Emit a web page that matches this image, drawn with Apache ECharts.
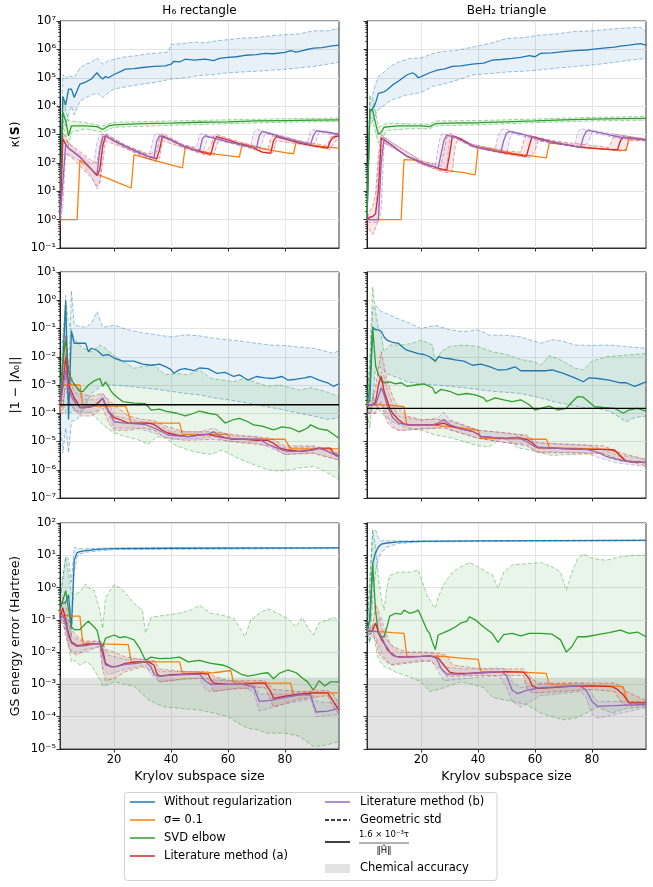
<!DOCTYPE html>
<html>
<head>
<meta charset="utf-8">
<script src="https://cdn.jsdelivr.net/npm/echarts@6/dist/echarts.min.js"></script>
<style>
html, body { margin: 0; padding: 0; background: #fff; }
#main { width: 653px; height: 887px; }
</style>
</head>
<body>
<div id="main"></div>
<script>
// ---------- data: [krylov size, value] ----------
// kappa(S), H6 rectangle
const kH6Blue = [[1,1],[2,2.2e4],[3,1.1e4],[4,4e4],[5,4e4],[6,2e4],[7,3.5e4],[8,6e4],[10,7e4],[12,9e4],[14,1.5e5],[15,1.1e5],[16,9e4],[17,1.1e5],[18,1e5],[20,1.3e5],[22,1.6e5],[24,2e5],[27,2.1e5],[30,2.3e5],[34,2.5e5],[38,2.6e5],[40,3e5],[41,3.8e5],[43,3.6e5],[45,4.5e5],[48,4.2e5],[52,4.5e5],[55,4e5],[57,4.8e5],[60,5.2e5],[63,5.5e5],[66,6.2e5],[70,6.5e5],[73,7.2e5],[76,7e5],[80,7.8e5],[82,9e5],[84,8e5],[87,9.5e5],[90,1.1e6],[93,1.15e6],[96,1.3e6],[99,1.4e6]];
const kH6BlueHi = [[1,1],[2,1.3e5],[3,9e4],[4,1.2e5],[6,1e5],[8,2.2e5],[10,3e5],[12,3.5e5],[14,5e5],[16,3e5],[18,4e5],[20,4.5e5],[24,5.5e5],[28,6e5],[32,7e5],[36,7.5e5],[39,8e5],[40,1.5e6],[44,1.6e6],[48,1.8e6],[52,1.7e6],[56,2e6],[60,2.2e6],[65,2.5e6],[70,2.6e6],[75,3e6],[80,3.3e6],[85,3.5e6],[90,4.5e6],[95,4.5e6],[99,5.5e6]];
const kH6BlueLo = [[1,1],[2,3e3],[3,2e3],[4,5e3],[5,1e4],[6,5e3],[8,1.5e4],[10,2e4],[14,3e4],[16,2e4],[18,3e4],[20,4e4],[25,5e4],[30,6e4],[35,7e4],[40,9e4],[45,1e5],[50,1.2e5],[55,1.3e5],[60,1.5e5],[70,1.7e5],[80,2e5],[90,2.5e5],[99,3.5e5]];
const kH6Green = [[1,1],[2,6e3],[3,3e3],[4,9e2],[5,2e3],[7,2e3],[10,2e3],[14,1.9e3],[16,1.5e3],[18,2e3],[20,2.2e3],[30,2.4e3],[40,2.5e3],[50,2.7e3],[60,2.8e3],[70,3e3],[80,3.1e3],[90,3.2e3],[99,3.3e3]];
const kH6GreenHi = [[1,1],[2,2e4],[3,8e3],[4,3e3],[5,3e3],[10,2.6e3],[16,2e3],[20,2.7e3],[40,3e3],[60,3.3e3],[80,3.6e3],[99,3.8e3]];
const kH6GreenLo = [[1,1],[2,2e3],[3,1e3],[4,4e2],[5,1.2e3],[10,1.6e3],[16,1.2e3],[20,1.8e3],[40,2.1e3],[60,2.4e3],[80,2.7e3],[99,2.9e3]];
const kH6Red = [[1,1],[2,7e2],[3,4.5e2],[4,3.3e2],[6,2.3e2],[8,1.6e2],[10,1e2],[12,60],[13,45],[14,36],[15,60],[16,4e2],[17,9e2],[20,6e2],[24,3.8e2],[28,2.5e2],[32,1.7e2],[35,1.4e2],[36,3e2],[37,9e2],[40,6.5e2],[44,4e2],[48,2.9e2],[52,2.2e2],[54,2e2],[55,5e2],[56,8.5e2],[60,6.5e2],[64,4.8e2],[68,3.7e2],[72,2.4e2],[75,2.2e2],[76,6e2],[77,8.5e2],[80,7e2],[85,5e2],[90,4e2],[95,3.3e2],[96,6e2],[97,8e2],[99,9e2]];
const kH6RedHi = [[1,1.5],[2,1.2e3],[4,5e2],[8,2.5e2],[12,1.2e2],[14,1e2],[15,4e2],[16,1e3],[17,1.1e3],[24,4.2e2],[32,2e2],[35,2.5e2],[36,8e2],[37,1.1e3],[44,4.5e2],[52,2.5e2],[54,4e2],[55,9e2],[56,1e3],[64,5.5e2],[74,3e2],[75,7e2],[76,1e3],[85,6e2],[95,4e2],[96,8e2],[99,1.1e3]];
const kH6RedLo = [[1,0.3],[2,2e2],[4,2e2],[8,80],[12,30],[14,15],[15,20],[16,1e2],[17,6e2],[24,3.2e2],[32,1.4e2],[35,1.1e2],[36,1.5e2],[37,6e2],[44,3.5e2],[52,1.9e2],[55,1.8e2],[56,4e2],[57,7e2],[64,4.2e2],[75,2e2],[76,2.5e2],[77,6e2],[85,4.6e2],[96,3e2],[97,5e2],[99,7e2]];
const kH6Purple = [[1,1],[2,20],[3,4.5e2],[4,3.3e2],[6,2.3e2],[8,1.6e2],[10,1e2],[12,60],[13,45],[14,40],[15,3e2],[16,8e2],[17,9e2],[20,6e2],[24,3.8e2],[28,2.5e2],[32,1.7e2],[34,1.5e2],[35,6e2],[36,9e2],[40,6.5e2],[44,4e2],[48,2.9e2],[50,2.6e2],[51,7e2],[52,9e2],[56,7e2],[60,5.5e2],[64,4.5e2],[68,3.6e2],[70,3.3e2],[71,9e2],[72,1.3e3],[76,1e3],[80,7.5e2],[85,5.5e2],[89,4.5e2],[90,9e2],[91,1.35e3],[95,1.2e3],[99,1e3]];
const kH6PurpleHi = [[1,1.5],[2,9e2],[3,6e2],[8,2e2],[12,90],[13,1.2e2],[14,5e2],[15,1e3],[17,1e3],[24,4.2e2],[32,2e2],[33,3e2],[34,9e2],[35,1.1e3],[44,4.5e2],[49,3.5e2],[50,1e3],[51,1.1e3],[60,6e2],[68,4e2],[69,1.2e3],[70,1.5e3],[80,8.5e2],[88,5e2],[89,1.3e3],[90,1.5e3],[99,1.1e3]];
const kH6PurpleLo = [[1,0.6],[2,3],[3,2e2],[8,1.2e2],[12,35],[14,12],[15,20],[16,3e2],[17,8e2],[24,3.3e2],[32,1.4e2],[35,1.3e2],[36,3e2],[37,8e2],[44,3.6e2],[51,2.2e2],[52,4e2],[53,8e2],[60,5e2],[71,3e2],[72,5e2],[73,1.1e3],[80,6.5e2],[90,4e2],[91,6e2],[92,1.2e3],[99,9e2]];
const kH6Orange = [[1,1],[7,1],[8,1.2e2],[10,90],[12,58],[14,40],[18,28],[22,19],[26,13],[27,1.9e2],[30,1.6e2],[35,1.15e2],[40,85],[44,66],[45,3.8e2],[48,3e2],[52,2.4e2],[56,2e2],[60,1.8e2],[64,1.6e2],[65,4.8e2],[68,4e2],[72,3.2e2],[76,2.7e2],[80,2.3e2],[83,2.1e2],[84,5.5e2],[88,4.5e2],[92,3.9e2],[96,3.5e2],[99,3.3e2]];

// kappa(S), BeH2 triangle
const kBeBlue = [[1,1],[2,7e3],[3,8e3],[4,1.3e4],[5,2.8e4],[6,3e4],[7,3.2e4],[8,3.7e4],[10,5.6e4],[12,7.5e4],[15,1.25e5],[17,1.5e5],[18,1.3e5],[19,1e5],[20,1.1e5],[23,1.5e5],[26,1.9e5],[28,2e5],[31,2.5e5],[34,2.6e5],[38,3e5],[42,3.3e5],[45,4.2e5],[48,4.4e5],[52,4.8e5],[55,5.2e5],[58,6e5],[60,5.5e5],[62,7.2e5],[66,7.5e5],[70,8.3e5],[74,9e5],[78,9.5e5],[80,1e6],[84,1.1e6],[88,1.2e6],[90,1.3e6],[93,1.4e6],[97,1.6e6],[99,1.4e6]];
const kBeBlueHi = [[1,1],[2,2e4],[3,2.5e4],[4,6e4],[5,1.1e5],[7,1.6e5],[9,2.5e5],[12,3.5e5],[16,4.8e5],[20,5e5],[24,7e5],[27,8.3e5],[32,9e5],[38,1.2e6],[44,1.6e6],[50,2.4e6],[56,2.6e6],[62,3.2e6],[68,3.5e6],[73,4.2e6],[80,4.5e6],[85,5e6],[90,5.5e6],[97,6e6],[99,4.2e6]];
const kBeBlueLo = [[1,1],[2,4.3e3],[3,3e3],[4,5e3],[5,7.4e3],[8,1.3e4],[10,1.7e4],[15,2.5e4],[20,3e4],[24,4.9e4],[28,6e4],[33,8.4e4],[38,1.25e5],[44,1.4e5],[50,1.6e5],[56,1.7e5],[62,1.9e5],[68,2.2e5],[74,2.5e5],[80,2.8e5],[85,3.2e5],[92,4e5],[99,4.8e5]];
const kBeGreen = [[1,1],[2,7e3],[3,7e3],[4,2.5e3],[5,1e3],[6,1.2e3],[7,1.8e3],[9,1.9e3],[12,2e3],[16,2e3],[20,2e3],[23,1.9e3],[25,2.4e3],[30,2.5e3],[40,2.6e3],[50,2.8e3],[60,3e3],[70,3.3e3],[80,3.5e3],[90,3.6e3],[99,3.7e3]];
const kBeGreenHi = [[1,1],[2,2.2e4],[3,2e4],[4,6e3],[5,1.8e3],[6,2e3],[8,2.5e3],[16,2.4e3],[23,2.3e3],[25,3e3],[40,3.1e3],[60,3.5e3],[80,4e3],[99,4.3e3]];
const kBeGreenLo = [[1,1],[2,2e3],[3,3e3],[4,1.2e3],[5,5e2],[6,6e2],[8,1.4e3],[16,1.6e3],[23,1.6e3],[25,2e3],[40,2.2e3],[60,2.6e3],[80,3e3],[99,3.2e3]];
const kBeRed = [[1,1],[2,1.2],[3,1.3],[4,1.6],[5,10],[6,7.5e2],[8,5.5e2],[10,4e2],[12,2.8e2],[15,1.7e2],[18,1.3e2],[21,95],[24,76],[27,60],[29,55],[30,2e2],[31,9e2],[34,7e2],[38,4e2],[42,3.2e2],[46,2.6e2],[50,2.2e2],[54,1.9e2],[57,1.7e2],[58,4e2],[59,8.5e2],[62,7e2],[66,5.5e2],[70,4.5e2],[74,3.8e2],[78,3.4e2],[82,3.2e2],[86,3e2],[89,2.9e2],[90,6e2],[91,8e2],[94,7.5e2],[99,6.5e2]];
const kBeRedHi = [[1,1.2],[2,2],[3,3],[4,8],[5,2e2],[6,1e3],[10,5e2],[20,1.2e2],[27,80],[28,2.5e2],[29,8e2],[30,1.1e3],[38,4.5e2],[50,2.6e2],[55,2.4e2],[56,6e2],[57,1e3],[66,6e2],[86,3.5e2],[87,6e2],[88,1e3],[99,7e2]];
const kBeRedLo = [[1,0.8],[2,0.4],[3,0.3],[4,0.5],[5,1],[6,3e2],[7,5e2],[10,3.5e2],[20,90],[29,45],[31,50],[32,4e2],[33,7e2],[38,3.6e2],[50,2e2],[58,1.5e2],[60,2.5e2],[61,6e2],[66,5e2],[90,2.6e2],[92,3e2],[93,6e2],[99,6e2]];
const kBePurple = [[1,1],[5,1],[6,1e2],[7,7e2],[8,5.5e2],[10,4e2],[12,2.8e2],[15,1.7e2],[18,1.3e2],[21,95],[24,76],[26,66],[27,2e2],[28,6e2],[29,9.5e2],[32,8e2],[38,4e2],[42,3.2e2],[46,2.6e2],[48,2.4e2],[49,6e2],[50,1.1e3],[51,1.3e3],[56,1e3],[62,6.5e2],[66,5.5e2],[70,4.5e2],[74,3.8e2],[76,3.6e2],[77,8e2],[78,1.3e3],[79,1.4e3],[84,1.1e3],[90,8e2],[94,7.5e2],[99,6.5e2]];
const kBePurpleHi = [[1,1.2],[4,1.5],[5,80],[6,9e2],[10,5e2],[20,1.2e2],[25,80],[26,4e2],[27,1e3],[28,1.1e3],[38,4.5e2],[46,3e2],[47,9e2],[48,1.4e3],[49,1.6e3],[60,8e2],[74,4.2e2],[75,1.2e3],[76,1.6e3],[84,1.2e3],[99,7e2]];
const kBePurpleLo = [[1,0.8],[5,0.8],[6,2],[7,5e2],[10,3.5e2],[20,90],[27,50],[29,70],[30,6e2],[31,8e2],[38,3.6e2],[50,2.1e2],[51,6e2],[52,1.1e3],[62,5.8e2],[77,3.3e2],[79,6e2],[80,1.2e3],[90,7e2],[99,6e2]];
const kBeOrange = [[1,1],[13,1],[14,1.3e2],[18,1.25e2],[21,95],[24,76],[27,60],[30,52],[35,45],[39,38],[40,3.5e2],[44,3.2e2],[48,2.6e2],[52,2.2e2],[56,1.9e2],[60,1.7e2],[64,1.5e2],[65,5e2],[70,4.5e2],[76,3.6e2],[82,3.2e2],[88,2.9e2],[92,2.7e2],[93,7e2],[96,7e2],[99,6.5e2]];

// |1 - |Lambda_0||, H6 rectangle
const oH6Blue = [[1,1.2e-4],[2,5e-3],[3,9e-1],[4,6e-5],[5,8e-2],[6,3e-2],[8,3e-2],[10,3e-2],[11,1.5e-2],[12,2e-2],[14,1.7e-2],[16,1.1e-2],[18,1.2e-2],[20,9e-3],[23,7e-3],[27,7e-3],[30,5.5e-3],[33,5e-3],[36,5.5e-3],[38,4.5e-3],[40,3.5e-3],[41,2.6e-3],[43,3.5e-3],[45,3.8e-3],[48,3.2e-3],[50,4e-3],[53,3.8e-3],[56,2.6e-3],[59,2.8e-3],[62,2e-3],[64,2.3e-3],[67,1.5e-3],[70,2e-3],[73,1.8e-3],[76,1.7e-3],[79,2e-3],[81,1.5e-3],[84,1.6e-3],[87,1.8e-3],[89,2e-3],[92,1.5e-3],[95,1.2e-3],[97,9e-4],[99,1.1e-3]];
const oH6BlueHi = [[1,2e-4],[2,2e-2],[3,1.5],[4,1e-3],[5,2.2],[6,1.3e-1],[8,1.2e-1],[10,1.1e-1],[12,1.5e-1],[14,3.9e-1],[16,1.1e-1],[20,1.3e-1],[25,9e-2],[30,7e-2],[35,6e-2],[40,5e-2],[45,6e-2],[50,5.5e-2],[55,4.5e-2],[60,4e-2],[65,3.5e-2],[70,3e-2],[75,2.6e-2],[80,2.5e-2],[85,2.2e-2],[90,2e-2],[95,1.5e-2],[97,1.3e-2],[99,1.7e-2]];
const oH6BlueLo = [[1,6e-5],[2,4e-6],[3,3e-5],[4,4e-6],[5,5e-5],[7,6e-5],[9,1.2e-4],[12,5e-4],[16,1e-3],[20,1e-3],[25,9e-4],[30,8e-4],[35,7e-4],[40,6e-4],[45,5e-4],[50,4.5e-4],[55,3.5e-4],[60,3e-4],[65,2.5e-4],[70,2e-4],[75,1.6e-4],[80,1.3e-4],[85,1e-4],[90,8e-5],[95,6e-5],[99,7e-5]];
const oH6Green = [[1,5e-4],[2,6.7e-3],[3,3.9e-2],[4,3e-3],[5,1.5e-3],[6,1.1e-3],[8,6e-4],[9,5.8e-4],[11,1e-3],[13,1.4e-3],[15,1.7e-3],[16,9e-4],[17,1.3e-3],[19,6e-4],[20,4.5e-4],[23,2.6e-4],[27,2.3e-4],[31,2.2e-4],[33,1.3e-4],[36,1.4e-4],[38,1.2e-4],[42,1e-4],[45,8e-5],[48,1e-4],[50,1.2e-4],[53,1e-4],[56,9e-5],[59,4.5e-5],[62,6e-5],[64,6.6e-5],[67,5e-5],[69,3.9e-5],[72,3.5e-5],[76,2.6e-5],[79,3.3e-5],[82,3e-5],[85,2.2e-5],[88,3e-5],[89,3.9e-5],[92,2.8e-5],[95,2.5e-5],[99,1.3e-5]];
const oH6GreenHi = [[1,1e-3],[2,5e-2],[3,1],[4,1.7e-1],[6,4.4e-2],[9,2e-2],[12,1.5e-2],[15,2.6e-2],[17,2e-2],[20,1.1e-2],[24,6e-3],[27,3.9e-3],[30,4.5e-3],[34,5e-3],[38,2.3e-3],[42,2.5e-3],[46,2.3e-3],[50,3.4e-3],[54,1.7e-3],[58,1.5e-3],[62,1.3e-3],[66,1.7e-3],[70,1.2e-3],[74,9e-4],[78,1e-3],[82,8e-4],[85,6.6e-4],[89,8e-4],[94,6e-4],[99,3.9e-4]];
const oH6GreenLo = [[1,1e-4],[2,3e-4],[3,1e-4],[4,1e-4],[6,1.2e-4],[9,1.2e-4],[12,1e-4],[16,4e-5],[20,2e-5],[24,1.5e-5],[28,1.2e-5],[32,8e-6],[35,1.5e-5],[38,1.3e-5],[42,7e-6],[46,5e-6],[50,4e-6],[54,3.5e-6],[58,5e-6],[62,3e-6],[66,2e-6],[70,1.4e-6],[74,1e-6],[78,9e-7],[82,1e-6],[86,1.2e-6],[90,1.3e-6],[94,9e-7],[99,4.5e-7]];
const oH6Red = [[1,2e-4],[2,1e-3],[3,1e-2],[4,1e-3],[5,6e-4],[6,3.4e-4],[7,2.5e-4],[8,1.6e-4],[10,1.6e-4],[12,1.7e-4],[14,2.2e-4],[16,3.4e-4],[17,2e-4],[18,1.2e-4],[20,7e-5],[22,6e-5],[25,4.5e-5],[29,4.5e-5],[32,4.5e-5],[34,4e-5],[37,2.5e-5],[39,2e-5],[42,1.7e-5],[46,1.5e-5],[50,1.7e-5],[53,1.8e-5],[55,1.6e-5],[58,1.4e-5],[62,1.2e-5],[66,1.2e-5],[70,1.1e-5],[74,1.1e-5],[76,8.7e-6],[78,6e-6],[81,5e-6],[85,4.5e-6],[89,5e-6],[92,5.8e-6],[96,5.8e-6],[97,4e-6],[99,3e-6]];
const oH6RedHi = [[1,3e-4],[2,5e-3],[3,6e-2],[4,4e-3],[6,1e-3],[8,5e-4],[12,4e-4],[16,5e-4],[18,3e-4],[20,2e-4],[25,8e-5],[30,6e-5],[34,5.5e-5],[38,3.5e-5],[45,2.2e-5],[55,2.2e-5],[65,1.6e-5],[75,1.3e-5],[80,7e-6],[90,7e-6],[99,4e-6]];
const oH6RedLo = [[1,1e-4],[2,1e-4],[3,2e-3],[4,2e-4],[6,1.5e-4],[8,8e-5],[12,8e-5],[16,1.5e-4],[18,5e-5],[20,2.5e-5],[25,2.5e-5],[30,3e-5],[34,2.5e-5],[38,1.4e-5],[45,1.1e-5],[55,1.2e-5],[65,9e-6],[75,7e-6],[80,3.5e-6],[90,3.8e-6],[99,2.2e-6]];
const oH6Purple = [[1,2e-4],[2,8e-4],[3,3.4e-3],[4,8e-4],[5,4e-4],[6,2.6e-4],[8,1.6e-4],[10,1.6e-4],[12,1.7e-4],[14,2e-4],[16,3.4e-4],[17,1.8e-4],[19,8e-5],[20,5e-5],[24,4.5e-5],[28,4.2e-5],[31,4e-5],[34,3e-5],[37,2.2e-5],[39,1.7e-5],[42,1.6e-5],[46,1.5e-5],[50,1.7e-5],[53,1.8e-5],[55,2.2e-5],[57,1.6e-5],[60,1.3e-5],[64,1.2e-5],[68,1.2e-5],[71,1.2e-5],[74,8e-6],[76,6.6e-6],[79,5e-6],[81,4.5e-6],[86,4.5e-6],[90,5e-6],[92,5.8e-6],[95,4.5e-6],[99,2.8e-6]];
const oH6PurpleHi = [[1,3e-4],[2,2e-3],[3,1.5e-2],[4,2e-3],[6,6e-4],[10,3e-4],[14,3e-4],[16,5e-4],[18,2.5e-4],[20,8e-5],[28,5.5e-5],[34,4.5e-5],[40,2.2e-5],[50,2.2e-5],[55,3e-5],[60,1.6e-5],[70,1.5e-5],[75,1e-5],[80,6e-6],[90,6.5e-6],[99,3.5e-6]];
const oH6PurpleLo = [[1,1e-4],[2,2e-4],[3,8e-4],[4,3e-4],[6,1.2e-4],[10,1e-4],[14,1.2e-4],[16,2e-4],[18,1e-4],[20,3e-5],[28,3e-5],[34,2e-5],[40,1.2e-5],[50,1.3e-5],[55,1.5e-5],[60,1e-5],[70,9e-6],[75,6e-6],[80,3.5e-6],[90,4e-6],[99,2.2e-6]];
const oH6Orange = [[1,1e-4],[2,1e-3],[3,1e-3],[8,1e-3],[9,1.8e-4],[24,1.8e-4],[25,1e-4],[26,4.5e-5],[43,4.5e-5],[44,1.8e-5],[60,1.8e-5],[61,1.2e-5],[80,1.2e-5],[82,5.5e-6],[99,5.5e-6]];

// |1 - |Lambda_0||, BeH2 triangle
const oBeBlue = [[1,2e-4],[2,3e-4],[3,1.1e-1],[4,9e-2],[5,9e-2],[6,8e-2],[7,5e-2],[8,3.9e-2],[10,3.2e-2],[12,3e-2],[14,2e-2],[15,1.7e-2],[17,1.5e-2],[19,1.3e-2],[21,1.2e-2],[23,1e-2],[25,7e-3],[26,1e-2],[28,9e-3],[30,8.5e-3],[32,7.7e-3],[35,7e-3],[38,5e-3],[41,5.5e-3],[44,4.5e-3],[47,3.4e-3],[50,3.5e-3],[53,4.4e-3],[55,3.2e-3],[60,3.2e-3],[64,3.2e-3],[66,3.4e-3],[70,2.6e-3],[74,1.8e-3],[77,1.3e-3],[79,1.8e-3],[82,1.7e-3],[86,1.5e-3],[90,1.2e-3],[92,1.2e-3],[95,9e-4],[99,1.3e-3]];
const oBeBlueHi = [[1,3e-4],[2,5e-3],[3,5e-1],[4,6.7e-1],[6,4e-1],[9,3e-1],[12,2.2e-1],[15,1.7e-1],[20,1e-1],[25,1.3e-1],[30,9e-2],[35,7.7e-2],[40,9e-2],[44,5.8e-2],[50,5.8e-2],[55,5e-2],[60,3.5e-2],[62,3e-2],[66,4e-2],[70,3.5e-2],[74,2.6e-2],[80,2.5e-2],[86,2.6e-2],[92,2.3e-2],[99,2e-2]];
const oBeBlueLo = [[1,1e-4],[2,1e-4],[3,2e-4],[4,5e-3],[6,4e-3],[8,2.5e-3],[12,1.8e-3],[15,1.3e-3],[20,1.1e-3],[25,1e-3],[30,9e-4],[35,8e-4],[40,7e-4],[45,6e-4],[50,5.5e-4],[55,5e-4],[62,3.5e-4],[67,2.5e-4],[72,2e-4],[77,1.6e-4],[82,1.5e-4],[86,1.2e-4],[89,8e-5],[92,5e-5],[95,7e-5],[99,8e-5]];
const oBeGreen = [[1,1.5e-4],[2,1e-3],[3,1.1e-1],[4,5e-3],[5,2.3e-3],[6,1.5e-3],[7,1.2e-3],[9,1.3e-3],[11,1.1e-3],[13,1.2e-3],[15,9e-4],[18,1e-3],[21,1.1e-3],[24,8e-4],[25,5e-4],[27,7e-4],[30,6e-4],[33,4.5e-4],[36,5e-4],[39,4.5e-4],[42,3.5e-4],[43,2.6e-4],[46,3.5e-4],[49,3e-4],[52,2.6e-4],[55,3e-4],[58,2e-4],[60,1.3e-4],[62,1.5e-4],[65,1.8e-4],[68,1.3e-4],[71,1.5e-4],[73,2.5e-4],[75,3.9e-4],[77,3.7e-4],[79,2.5e-4],[81,1.7e-4],[84,1.6e-4],[88,1.5e-4],[91,1e-4],[93,1.3e-4],[96,1.5e-4],[99,1.2e-4]];
const oBeGreenHi = [[1,2e-4],[2,1e-2],[3,3],[4,4e-1],[5,1e-1],[6,5.8e-2],[7,1.5e-2],[9,2.6e-2],[13,2.6e-2],[17,3e-2],[20,3.9e-2],[24,2.6e-2],[25,6e-3],[27,1.5e-2],[30,2.3e-2],[35,2.6e-2],[40,2.3e-2],[45,1.5e-2],[50,1.2e-2],[55,8e-3],[60,6.6e-3],[62,5e-3],[65,1.1e-2],[70,7e-3],[74,4e-3],[77,3.4e-3],[80,7e-3],[85,1e-2],[90,1.1e-2],[95,1.2e-2],[99,1.3e-2]];
const oBeGreenLo = [[1,1e-4],[2,3e-5],[3,5e-4],[4,2e-4],[6,1e-4],[10,5e-5],[15,3e-5],[20,2.5e-5],[25,1.7e-5],[30,1.4e-5],[35,1e-5],[40,7e-6],[44,6.5e-6],[48,1.3e-5],[50,1.2e-5],[54,6e-6],[58,5e-6],[62,4e-6],[66,3.2e-6],[70,3.4e-6],[74,3.5e-6],[78,3.6e-6],[82,4e-6],[86,2.6e-6],[90,2e-6],[95,2e-6],[99,2e-6]];
const oBeRed = [[1,1.7e-4],[2,2e-4],[3,2e-4],[4,2.5e-4],[5,1e-3],[6,2e-3],[7,6e-4],[8,3e-4],[9,1.5e-4],[10,1e-4],[12,6e-5],[14,4.2e-5],[16,3.9e-5],[20,3.9e-5],[24,3.9e-5],[26,4e-5],[28,4.5e-5],[30,3.6e-5],[34,2.8e-5],[38,2.3e-5],[40,1.8e-5],[41,1.5e-5],[45,1.4e-5],[50,1.3e-5],[54,1.4e-5],[57,1.2e-5],[59,9e-6],[61,6e-6],[66,5.8e-6],[72,5.5e-6],[78,5.3e-6],[84,5.3e-6],[88,5e-6],[90,3e-6],[92,2e-6],[99,1.8e-6]];
const oBeRedHi = [[1,2.5e-4],[3,3e-4],[4,8e-4],[5,4e-3],[6,1.5e-2],[7,5e-3],[8,1.5e-3],[10,4e-4],[12,1.5e-4],[15,8e-5],[20,6e-5],[28,6e-5],[34,4e-5],[40,2.5e-5],[50,2e-5],[57,1.7e-5],[61,9e-6],[70,8e-6],[84,7e-6],[90,4e-6],[99,2.3e-6]];
const oBeRedLo = [[1,1e-4],[3,1e-4],[4,1e-4],[5,2e-4],[6,2.5e-4],[7,1e-4],[8,5e-5],[10,3e-5],[12,2.5e-5],[15,2.5e-5],[20,2.8e-5],[28,3e-5],[34,2e-5],[40,1.3e-5],[50,9e-6],[57,8e-6],[61,4e-6],[70,4e-6],[84,3.8e-6],[90,2.2e-6],[99,1.4e-6]];
const oBePurple = [[1,2e-4],[3,2e-4],[4,2e-4],[5,4e-4],[6,8e-4],[7,4.5e-4],[8,2e-4],[10,7e-5],[12,4.6e-5],[15,3.9e-5],[20,3.9e-5],[24,3.9e-5],[26,4.5e-5],[28,5.8e-5],[30,4e-5],[34,2.8e-5],[38,2.3e-5],[40,1.8e-5],[41,1.5e-5],[45,1.4e-5],[50,1.3e-5],[54,1.4e-5],[57,1e-5],[60,6.5e-6],[66,5.8e-6],[72,5.5e-6],[78,5.3e-6],[80,4.8e-6],[83,3.8e-6],[85,3e-6],[88,2.5e-6],[92,2e-6],[99,1.8e-6]];
const oBePurpleHi = [[1,2.5e-4],[4,3e-4],[5,1e-3],[6,3e-3],[7,2e-3],[8,8e-4],[10,2e-4],[12,8e-5],[20,5.5e-5],[26,7e-5],[28,1.1e-4],[30,6e-5],[40,2.5e-5],[50,2e-5],[57,1.5e-5],[60,9e-6],[78,7.5e-6],[82,6e-6],[88,3.5e-6],[99,2.4e-6]];
const oBePurpleLo = [[1,1e-4],[4,1e-4],[5,1.5e-4],[6,2.5e-4],[7,1.5e-4],[8,8e-5],[10,3.5e-5],[12,2.5e-5],[20,2.8e-5],[26,3e-5],[28,3.5e-5],[30,2.6e-5],[40,1.3e-5],[50,9e-6],[57,7e-6],[60,4.5e-6],[78,3.8e-6],[82,2.8e-6],[88,1.8e-6],[99,1.3e-6]];
const oBeOrange = [[1,1.8e-4],[2,2e-4],[5,2e-4],[10,1.9e-4],[14,1.7e-4],[15,3.9e-5],[24,3.9e-5],[27,3.6e-5],[35,3e-5],[40,2.5e-5],[41,1.3e-5],[60,1.2e-5],[64,1.2e-5],[65,6e-6],[86,5.3e-6],[89,4e-6],[92,2e-6],[99,1.8e-6]];

// GS energy error (Hartree), H6 rectangle
const eH6Blue = [[1,3e-1],[2,3.3e-1],[3,3.5e-1],[4,6e-1],[5,5.5e-2],[6,7],[7,12],[8,13],[10,14],[15,15.5],[20,16],[40,16.5],[99,17]];
const eH6BlueHi = [[1,5e-1],[2,2],[3,9],[4,8],[5,1.5],[6,18],[7,16],[10,16],[20,17],[99,17.5]];
const eH6BlueLo = [[1,2e-1],[2,1.5e-1],[3,5e-2],[4,1e-1],[5,3e-2],[6,3],[7,9],[8,11],[10,12.5],[20,15],[99,16]];
const eH6Green = [[1,2e-1],[2,4e-1],[3,8e-1],[4,2e-1],[5,6e-2],[6,5e-2],[8,5e-2],[10,7.7e-2],[11,9e-2],[13,6e-2],[14,4.8e-2],[15,2e-2],[16,1.5e-2],[17,2.7e-2],[20,3.4e-2],[22,2.8e-2],[24,3e-2],[27,2.4e-2],[29,1.3e-2],[31,5.6e-3],[33,7e-3],[36,6.3e-3],[40,6.5e-3],[43,7e-3],[46,5e-3],[50,5.6e-3],[54,4.5e-3],[58,4e-3],[60,3.5e-3],[62,2.8e-3],[65,2e-3],[67,1.8e-3],[70,2e-3],[72,2.2e-3],[74,2.3e-3],[76,1.5e-3],[78,2.2e-3],[81,2.8e-3],[84,2.3e-3],[86,1.6e-3],[88,1.2e-3],[90,6.6e-4],[92,1.3e-3],[94,9e-4],[96,1.2e-3],[99,1.2e-3]];
const eH6GreenHi = [[1,3e-1],[2,2],[3,9],[4,2.7],[5,6.6e-1],[6,6e-1],[8,7.4e-1],[10,1.3],[11,1],[13,8.3e-1],[14,4e-1],[15,2e-1],[16,5.4e-2],[17,5e-1],[20,1.2],[22,1],[24,7e-1],[27,3.2e-1],[30,2e-1],[31,3.9e-2],[33,1.2e-1],[38,1.4e-1],[43,1.6e-1],[47,2e-1],[50,2.8e-1],[54,1.6e-1],[58,1.4e-1],[62,1.1e-1],[64,6e-2],[66,3e-2],[68,1e-1],[71,1.6e-1],[74,2.2e-1],[78,1.5e-1],[81,1.1e-1],[84,6e-2],[86,1.2e-1],[88,6e-2],[90,3.4e-2],[92,8e-2],[95,1e-1],[97,1.2e-1],[99,9e-2]];
const eH6GreenLo = [[1,1e-1],[2,1e-1],[3,7e-2],[4,1.5e-2],[5,5e-3],[6,5.6e-3],[8,4e-3],[10,5e-3],[12,4e-3],[14,2e-3],[15,1.4e-3],[16,8.8e-4],[18,1e-3],[20,1.2e-3],[24,1e-3],[27,8.8e-4],[30,5e-4],[32,3.4e-4],[35,2.5e-4],[38,2e-4],[44,1.8e-4],[50,1.6e-4],[55,1.3e-4],[60,1e-4],[64,6e-5],[67,4.4e-5],[70,4e-5],[74,3.1e-5],[80,3.1e-5],[85,2.5e-5],[90,1.2e-5],[94,1.3e-5],[99,1.7e-5]];
const eH6Red = [[1,1.2e-1],[2,2.3e-1],[3,1e-1],[4,3.9e-2],[5,2.1e-2],[7,1.6e-2],[10,1.7e-2],[13,1.8e-2],[15,1.8e-2],[16,1.2e-2],[17,4.5e-3],[19,3.5e-3],[21,3.6e-3],[24,4.5e-3],[28,5e-3],[32,5e-3],[34,4e-3],[35,2.2e-3],[36,1.8e-3],[40,2e-3],[45,2.1e-3],[50,2.2e-3],[53,2.1e-3],[54,1.4e-3],[55,1.1e-3],[60,1e-3],[65,1e-3],[70,1.1e-3],[73,1.1e-3],[75,6e-4],[76,3.7e-4],[80,4.3e-4],[85,5e-4],[90,5.5e-4],[95,5.5e-4],[97,3e-4],[99,1.6e-4]];
const eH6RedHi = [[1,2e-1],[2,5e-1],[3,3e-1],[4,1e-1],[5,5e-2],[7,3e-2],[10,2.2e-2],[15,2.2e-2],[16,2e-2],[17,1.2e-2],[20,1e-2],[24,7e-3],[30,6e-3],[34,5.5e-3],[36,3e-3],[45,2.5e-3],[53,2.5e-3],[55,1.8e-3],[60,1.3e-3],[70,1.3e-3],[73,1.3e-3],[76,7e-4],[85,6e-4],[95,6.5e-4],[97,5e-4],[99,2.5e-4]];
const eH6RedLo = [[1,7e-2],[2,1e-1],[3,3e-2],[4,1.5e-2],[5,1e-2],[7,8e-3],[10,1.2e-2],[15,1.5e-2],[16,3e-3],[17,1.3e-3],[20,1.5e-3],[24,2.5e-3],[30,3.5e-3],[34,2.5e-3],[36,1.2e-3],[45,1.5e-3],[53,1.5e-3],[55,6e-4],[60,7e-4],[70,8e-4],[73,8e-4],[76,2e-4],[85,3.5e-4],[95,4.5e-4],[97,2e-4],[99,1.2e-4]];
const eH6Purple = [[1,1e-1],[2,1.4e-1],[3,8e-2],[4,3e-2],[5,1.9e-2],[7,1.5e-2],[10,1.6e-2],[13,1.8e-2],[15,1.9e-2],[16,8e-3],[17,4e-3],[20,3.5e-3],[24,4.2e-3],[28,4.5e-3],[31,5e-3],[33,3.5e-3],[34,2e-3],[36,1.8e-3],[40,1.9e-3],[45,2e-3],[50,2.1e-3],[52,1.3e-3],[54,1e-3],[60,1e-3],[65,1e-3],[69,8.6e-4],[70,5e-4],[71,3e-4],[75,3.2e-4],[80,4e-4],[85,4.7e-4],[89,4.8e-4],[90,2.5e-4],[91,1.4e-4],[95,1.5e-4],[99,1.8e-4]];
const eH6PurpleHi = [[1,1.5e-1],[2,2.5e-1],[3,1.5e-1],[5,3e-2],[10,2e-2],[15,2.2e-2],[16,1.5e-2],[18,8e-3],[24,6e-3],[31,6e-3],[33,5e-3],[36,2.5e-3],[50,2.5e-3],[52,2e-3],[54,1.4e-3],[65,1.2e-3],[69,1.1e-3],[71,5e-4],[80,5e-4],[89,6e-4],[91,3e-4],[99,2.5e-4]];
const eH6PurpleLo = [[1,7e-2],[2,8e-2],[3,4e-2],[5,1e-2],[10,1e-2],[15,1.5e-2],[16,3e-3],[18,2e-3],[24,3e-3],[31,4e-3],[33,2e-3],[36,1.2e-3],[50,1.6e-3],[52,7e-4],[54,6e-4],[65,8e-4],[69,6e-4],[71,1.5e-4],[80,2.5e-4],[89,3.5e-4],[91,1e-4],[99,1.2e-4]];
const eH6Orange = [[1,2e-1],[2,1.4e-1],[5,1.3e-1],[8,1.3e-1],[9,1.9e-2],[15,1.8e-2],[25,1.7e-2],[26,5e-3],[43,5e-3],[44,2.2e-3],[55,2.3e-3],[61,2.7e-3],[62,1.1e-3],[82,1.1e-3],[83,4.7e-4],[90,5.5e-4],[99,5.5e-4]];

// GS energy error (Hartree), BeH2 triangle
const eBeBlue = [[1,4.5e-2],[2,1e-1],[3,5.5],[4,12],[5,18],[6,22],[8,24],[12,26],[20,27],[40,28],[99,29]];
const eBeBlueHi = [[1,5e-2],[2,1],[3,60],[4,60],[5,35],[6,28],[8,28],[12,28],[20,28],[99,30]];
const eBeBlueLo = [[1,4e-2],[2,2e-2],[3,5e-1],[4,3],[5,8],[6,12],[8,18],[12,23],[20,26],[99,28]];
const eBeGreen = [[1,4.5e-2],[2,1e-1],[3,5.5],[4,2e-1],[5,3.8e-2],[6,3e-2],[7,3e-2],[8,6e-2],[9,1.3e-1],[11,1.6e-1],[13,1.5e-1],[14,2e-1],[16,1.6e-1],[18,1.8e-1],[19,2e-1],[20,1.3e-1],[22,5e-2],[23,3.8e-2],[24,2e-2],[25,1.2e-2],[26,3.4e-2],[28,4e-2],[30,4.8e-2],[32,6e-2],[34,8e-2],[36,9e-2],[37,1.25e-1],[39,1e-1],[42,6e-2],[45,3.8e-2],[47,2e-2],[49,3.5e-2],[52,3.8e-2],[55,3.2e-2],[58,3.8e-2],[62,3.8e-2],[66,3.6e-2],[69,2.4e-2],[71,1e-2],[73,1.5e-2],[75,3e-2],[78,3e-2],[82,3.5e-2],[86,4e-2],[90,4.8e-2],[93,3.8e-2],[96,4.2e-2],[99,3e-2]];
const eBeGreenHi = [[1,5e-2],[2,2],[3,60],[4,20],[5,2],[6,5e-1],[7,2e-1],[8,1],[9,2.4],[12,3],[16,3],[19,3.5],[20,2],[22,6e-1],[24,3e-1],[25,2.3e-1],[26,5e-1],[28,1.3],[31,3],[34,4.4],[37,6],[40,4.4],[43,3],[45,2.5],[47,9.4e-1],[49,3],[52,5],[57,5.5],[62,6],[66,4.4],[69,3],[71,8.3e-1],[73,3],[75,8],[77,11],[80,8],[85,7],[90,8.9],[95,10],[99,10]];
const eBeGreenLo = [[1,4e-2],[2,2e-2],[3,6e-2],[4,1.5e-2],[5,6e-3],[7,3.6e-3],[9,3e-3],[12,2.2e-3],[16,1.7e-3],[20,1.2e-3],[23,6e-4],[26,7e-4],[30,9e-4],[34,1.2e-3],[38,1e-3],[42,8e-4],[45,4e-4],[48,3.5e-4],[52,3e-4],[57,2.4e-4],[62,1.3e-4],[66,1e-4],[70,8e-5],[74,9e-5],[78,1.3e-4],[82,2e-4],[87,1.3e-4],[92,1.8e-4],[99,2e-4]];
const eBeRed = [[1,4.5e-2],[2,4.5e-2],[3,4.8e-2],[4,7.8e-2],[5,4.3e-2],[6,2.5e-2],[8,1.4e-2],[9,1e-2],[11,7.4e-3],[15,7e-3],[20,7.4e-3],[23,7.7e-3],[26,6.5e-3],[28,4e-3],[30,2.4e-3],[32,2.2e-3],[36,2.2e-3],[41,2.3e-3],[50,2.5e-3],[56,2.4e-3],[58,1.5e-3],[59,9e-4],[61,7.6e-4],[66,8e-4],[72,8.7e-4],[80,9e-4],[87,8.6e-4],[89,7e-4],[91,4.8e-4],[93,2.7e-4],[99,2.7e-4]];
const eBeRedHi = [[1,5e-2],[3,6e-2],[4,3e-1],[5,2e-1],[6,6e-2],[8,2.5e-2],[10,1.5e-2],[15,1e-2],[23,1e-2],[27,9e-3],[29,8e-3],[31,4e-3],[41,3e-3],[56,3e-3],[57,2.5e-3],[59,1.5e-3],[61,1.1e-3],[80,1.1e-3],[88,1.1e-3],[90,9e-4],[92,6e-4],[99,3.2e-4]];
const eBeRedLo = [[1,4e-2],[3,3e-2],[4,2.5e-2],[5,1e-2],[6,7e-3],[8,5e-3],[10,4e-3],[15,4.5e-3],[23,5.5e-3],[27,3e-3],[29,1.8e-3],[31,1.8e-3],[41,1.9e-3],[56,1.9e-3],[57,8e-4],[59,5.5e-4],[61,5.5e-4],[80,7e-4],[88,6e-4],[90,3e-4],[92,2.2e-4],[99,2.2e-4]];
const eBePurple = [[1,4.5e-2],[3,4.5e-2],[5,4.3e-2],[6,3.1e-2],[7,2e-2],[8,1.2e-2],[10,8e-3],[12,7e-3],[15,7e-3],[20,7.4e-3],[23,7.7e-3],[25,7e-3],[26,5e-3],[27,3.1e-3],[29,2.1e-3],[35,2.1e-3],[41,2.3e-3],[48,2.5e-3],[50,1.9e-3],[52,6.6e-4],[54,5.2e-4],[57,6.5e-4],[62,8e-4],[70,8.5e-4],[76,8.8e-4],[78,6.6e-4],[80,3e-4],[82,2.1e-4],[88,2.2e-4],[92,2.3e-4],[99,2.4e-4]];
const eBePurpleHi = [[1,5e-2],[4,8e-2],[6,1.2e-1],[7,6e-2],[9,2e-2],[12,1e-2],[20,1e-2],[24,9e-3],[26,8e-3],[28,3.5e-3],[35,3e-3],[46,3.2e-3],[48,3.2e-3],[50,3e-3],[52,1.2e-3],[55,8e-4],[62,1e-3],[76,1.1e-3],[78,1e-3],[80,5e-4],[82,3e-4],[99,3e-4]];
const eBePurpleLo = [[1,4e-2],[4,3e-2],[6,1e-2],[7,7e-3],[9,4e-3],[12,4.5e-3],[20,5.5e-3],[24,5e-3],[26,2.5e-3],[28,1.3e-3],[35,1.5e-3],[46,1.8e-3],[48,1.6e-3],[50,8e-4],[52,3e-4],[55,2e-4],[62,4.5e-4],[76,6e-4],[78,4e-4],[80,1.2e-4],[82,9e-5],[99,1.9e-4]];
const eBeOrange = [[1,4.5e-2],[5,4.3e-2],[10,4e-2],[14,3.8e-2],[15,7.3e-3],[20,7.4e-3],[27,7.5e-3],[34,6.5e-3],[40,6e-3],[41,2.5e-3],[55,2.4e-3],[64,2.2e-3],[65,1e-3],[75,9e-4],[85,9e-4],[91,8.6e-4],[92,4e-4],[93,2.8e-4],[99,2.8e-4]];

// reference levels
const tauLineH6 = 2e-4;
const tauLineBe = 1.5e-4;
const chemAcc = 1.6e-3;

const xTicks = [20, 40, 60, 80];
const colTitles = ['H₆ rectangle', 'BeH₂ triangle'];
const legendNames = ['Without regularization', 'σ= 0.1', 'SVD elbow', 'Literature method (a)', 'Literature method (b)', 'Geometric std', 'Chemical accuracy'];

// ---------- chart ----------
const FONT = 'DejaVu Sans';
const C = { blue: '#1f77b4', orange: '#ff7f0e', green: '#2ca02c', red: '#d62728', purple: '#9467bd' };
function rgba (hex, a) {
  const n = parseInt(hex.slice(1), 16);
  return 'rgba(' + (n >> 16) + ',' + ((n >> 8) & 255) + ',' + (n & 255) + ',' + a + ')';
}
const SUP = { '-': '⁻', '0': '⁰', '1': '¹', '2': '²', '3': '³', '4': '⁴', '5': '⁵', '6': '⁶', '7': '⁷', '8': '⁸', '9': '⁹' };
function pow10 (v) {
  const e = Math.round(Math.log10(v));
  return '10' + String(e).split('').map(c => SUP[c]).join('');
}

const rows = [
  { top: 21, height: 227, min: 1e-1, max: 1e7, name: '{a|κ(}{b|S}{a|)}' },
  { top: 272, height: 226, min: 1e-7, max: 1e1, name: '{a||1 − |Λ₀||}' },
  { top: 523, height: 226, min: 1e-5, max: 1e2, name: '{a|GS energy error (Hartree)}' }
];
const colLeft = [60, 367];
const W = 279;

const grids = [], xAxes = [], yAxes = [], series = [];

function minorValues (min, max) {
  const out = [];
  for (let e = Math.round(Math.log10(min)); e < Math.round(Math.log10(max)); e++) {
    for (let m = 2; m <= 9; m++) out.push(m * Math.pow(10, e));
  }
  return out;
}

rows.forEach((r, ri) => {
  colLeft.forEach((left, ci) => {
    const gi = ri * 2 + ci;
    grids.push({ left: left, top: r.top, width: W, height: r.height, show: true, borderColor: '#000', borderWidth: 0.8, outerBoundsMode: 'none', containLabel: false });
    xAxes.push({
      type: 'value', gridIndex: gi, min: 1, max: 99,
      axisLine: { show: true, onZero: false, lineStyle: { color: '#000', width: 0.8 } },
      axisTick: { show: true, length: 3.5, customValues: xTicks, lineStyle: { color: '#000', width: 0.8 } },
      axisLabel: { show: ri === 2, customValues: xTicks, color: '#000', fontSize: 11.5, fontFamily: FONT, margin: 5 },
      splitLine: { show: true, lineStyle: { color: '#e4e4e4', width: 1 } },
      name: ri === 2 ? 'Krylov subspace size' : '', nameLocation: 'middle', nameGap: 21,
      nameTextStyle: { color: '#000', fontSize: 12.5, fontFamily: FONT }
    });
    yAxes[gi] = {
      type: 'log', logBase: 10, gridIndex: gi, min: r.min, max: r.max,
      axisLine: { show: true, lineStyle: { color: '#000', width: 0.8 } },
      axisTick: { show: true, length: 3.5, lineStyle: { color: '#000', width: 0.8 } },
      axisLabel: { show: ci === 0, formatter: pow10, color: '#000', fontSize: 11.5, fontFamily: FONT, margin: 4 },
      splitLine: { show: true, lineStyle: { color: '#e4e4e4', width: 1 } },
      name: ci === 0 ? r.name : '', nameLocation: 'middle', nameGap: 38, nameRotate: 90,
      nameTextStyle: { color: '#000', fontFamily: FONT, rich: { a: { fontSize: 12.5, fontFamily: FONT, color: '#000' }, b: { fontSize: 12.5, fontWeight: 'bold', fontFamily: FONT, color: '#000' } } }
    };
    // minor log ticks
    yAxes[6 + gi] = {
      type: 'log', logBase: 10, gridIndex: gi, min: r.min, max: r.max, position: 'left',
      axisLine: { show: false },
      axisTick: { show: true, length: 2, customValues: minorValues(r.min, r.max), lineStyle: { color: '#000', width: 0.6 } },
      axisLabel: { show: false }, splitLine: { show: false }
    };
  });
});

function lineSeries (gi, data, color, width, type) {
  return {
    type: 'line', xAxisIndex: gi, yAxisIndex: gi, data: data, symbol: 'none', showSymbol: false,
    silent: true, clip: true, lineStyle: { color: color, width: width, type: type }, itemStyle: { color: color }
  };
}
function bandSeries (gi, hi, lo, fill) {
  return {
    type: 'custom', xAxisIndex: gi, yAxisIndex: gi, silent: true, clip: true,
    data: [hi[0]],
    renderItem: function (params, api) {
      const pts = hi.map(p => api.coord(p)).concat(lo.slice().reverse().map(p => api.coord(p)));
      return { type: 'polygon', shape: { points: pts }, style: { fill: fill } };
    }
  };
}
function addCurve (gi, color, mean, hi, lo) {
  if (hi && lo) {
    series.push(bandSeries(gi, hi, lo, rgba(color, 0.1)));
    series.push(lineSeries(gi, hi, rgba(color, 0.45), 1, [4, 2]));
    series.push(lineSeries(gi, lo, rgba(color, 0.45), 1, [4, 2]));
  }
  series.push(lineSeries(gi, mean, color, 1.3, 'solid'));
}

// chemical accuracy region (bottom row)
[4, 5].forEach(gi => {
  series.push(bandSeries(gi, [[1, chemAcc], [99, chemAcc]], [[1, rows[2].min], [99, rows[2].min]], 'rgba(128,128,128,0.22)'));
});

const panelData = [
  [kH6Blue, kH6BlueHi, kH6BlueLo, kH6Orange, kH6Green, kH6GreenHi, kH6GreenLo, kH6Red, kH6RedHi, kH6RedLo, kH6Purple, kH6PurpleHi, kH6PurpleLo],
  [kBeBlue, kBeBlueHi, kBeBlueLo, kBeOrange, kBeGreen, kBeGreenHi, kBeGreenLo, kBeRed, kBeRedHi, kBeRedLo, kBePurple, kBePurpleHi, kBePurpleLo],
  [oH6Blue, oH6BlueHi, oH6BlueLo, oH6Orange, oH6Green, oH6GreenHi, oH6GreenLo, oH6Red, oH6RedHi, oH6RedLo, oH6Purple, oH6PurpleHi, oH6PurpleLo],
  [oBeBlue, oBeBlueHi, oBeBlueLo, oBeOrange, oBeGreen, oBeGreenHi, oBeGreenLo, oBeRed, oBeRedHi, oBeRedLo, oBePurple, oBePurpleHi, oBePurpleLo],
  [eH6Blue, eH6BlueHi, eH6BlueLo, eH6Orange, eH6Green, eH6GreenHi, eH6GreenLo, eH6Red, eH6RedHi, eH6RedLo, eH6Purple, eH6PurpleHi, eH6PurpleLo],
  [eBeBlue, eBeBlueHi, eBeBlueLo, eBeOrange, eBeGreen, eBeGreenHi, eBeGreenLo, eBeRed, eBeRedHi, eBeRedLo, eBePurple, eBePurpleHi, eBePurpleLo]
];
panelData.forEach((d, gi) => {
  addCurve(gi, C.blue, d[0], d[1], d[2]);
  addCurve(gi, C.orange, d[3]);
  addCurve(gi, C.green, d[4], d[5], d[6]);
  addCurve(gi, C.red, d[7], d[8], d[9]);
  addCurve(gi, C.purple, d[10], d[11], d[12]);
});

// 1.6e-3 tau / ||H|| lines (middle row)
series.push(lineSeries(2, [[1, tauLineH6], [99, tauLineH6]], '#000', 1.3, 'solid'));
series.push(lineSeries(3, [[1, tauLineBe], [99, tauLineBe]], '#000', 1.3, 'solid'));

// ---------- titles + legend box ----------
const txt = (text, x, y, size, align) => ({
  type: 'text', silent: true,
  style: { text: text, x: x, y: y, fill: '#000', font: size + 'px "' + FONT + '"', textAlign: align || 'left', textVerticalAlign: 'middle' }
});
const seg = (x1, x2, y, color, dash) => ({
  type: 'line', silent: true, shape: { x1: x1, y1: y, x2: x2, y2: y },
  style: { stroke: color, lineWidth: 1.5, lineDash: dash || null }
});

const graphic = [
  txt(colTitles[0], 60 + W / 2, 11, 12, 'center'),
  txt(colTitles[1], 367 + W / 2, 11, 12, 'center'),
  { type: 'rect', silent: true, shape: { x: 124.5, y: 792.5, width: 372.5, height: 88, r: 3 }, style: { fill: '#fff', stroke: '#d0d0d0', lineWidth: 1 } }
];
const legCol1 = [C.blue, C.orange, C.green, C.red];
const legRows = [802, 820, 838, 856];
legCol1.forEach((c, i) => {
  graphic.push(seg(130, 155, legRows[i], c));
  graphic.push(txt(legendNames[i], 164, legRows[i], 11.5));
});
graphic.push(seg(325, 350, 802, C.purple));
graphic.push(txt(legendNames[4], 360, 802, 11.5));
graphic.push(seg(325, 350, 820, '#000', [4, 2]));
graphic.push(txt(legendNames[5], 360, 820, 11.5));
graphic.push(seg(325, 350, 842, '#000'));
graphic.push(txt('1.6 × 10⁻³τ', 384, 834.5, 8.5, 'center'));
graphic.push({ type: 'line', silent: true, shape: { x1: 359, y1: 843, x2: 409, y2: 843 }, style: { stroke: '#000', lineWidth: 0.6 } });
graphic.push(txt('‖Ĥ‖', 384, 851, 8.5, 'center'));
graphic.push({ type: 'rect', silent: true, shape: { x: 325, y: 864, width: 25, height: 9 }, style: { fill: 'rgba(128,128,128,0.22)' } });
graphic.push(txt(legendNames[6], 360, 868.5, 11.5));

const chart = echarts.init(document.getElementById('main'), null, { renderer: 'canvas' });
chart.setOption({
  animation: false,
  backgroundColor: '#fff',
  textStyle: { fontFamily: FONT },
  grid: grids,
  xAxis: xAxes,
  yAxis: yAxes,
  series: series,
  graphic: graphic
});
</script>
</body>
</html>
